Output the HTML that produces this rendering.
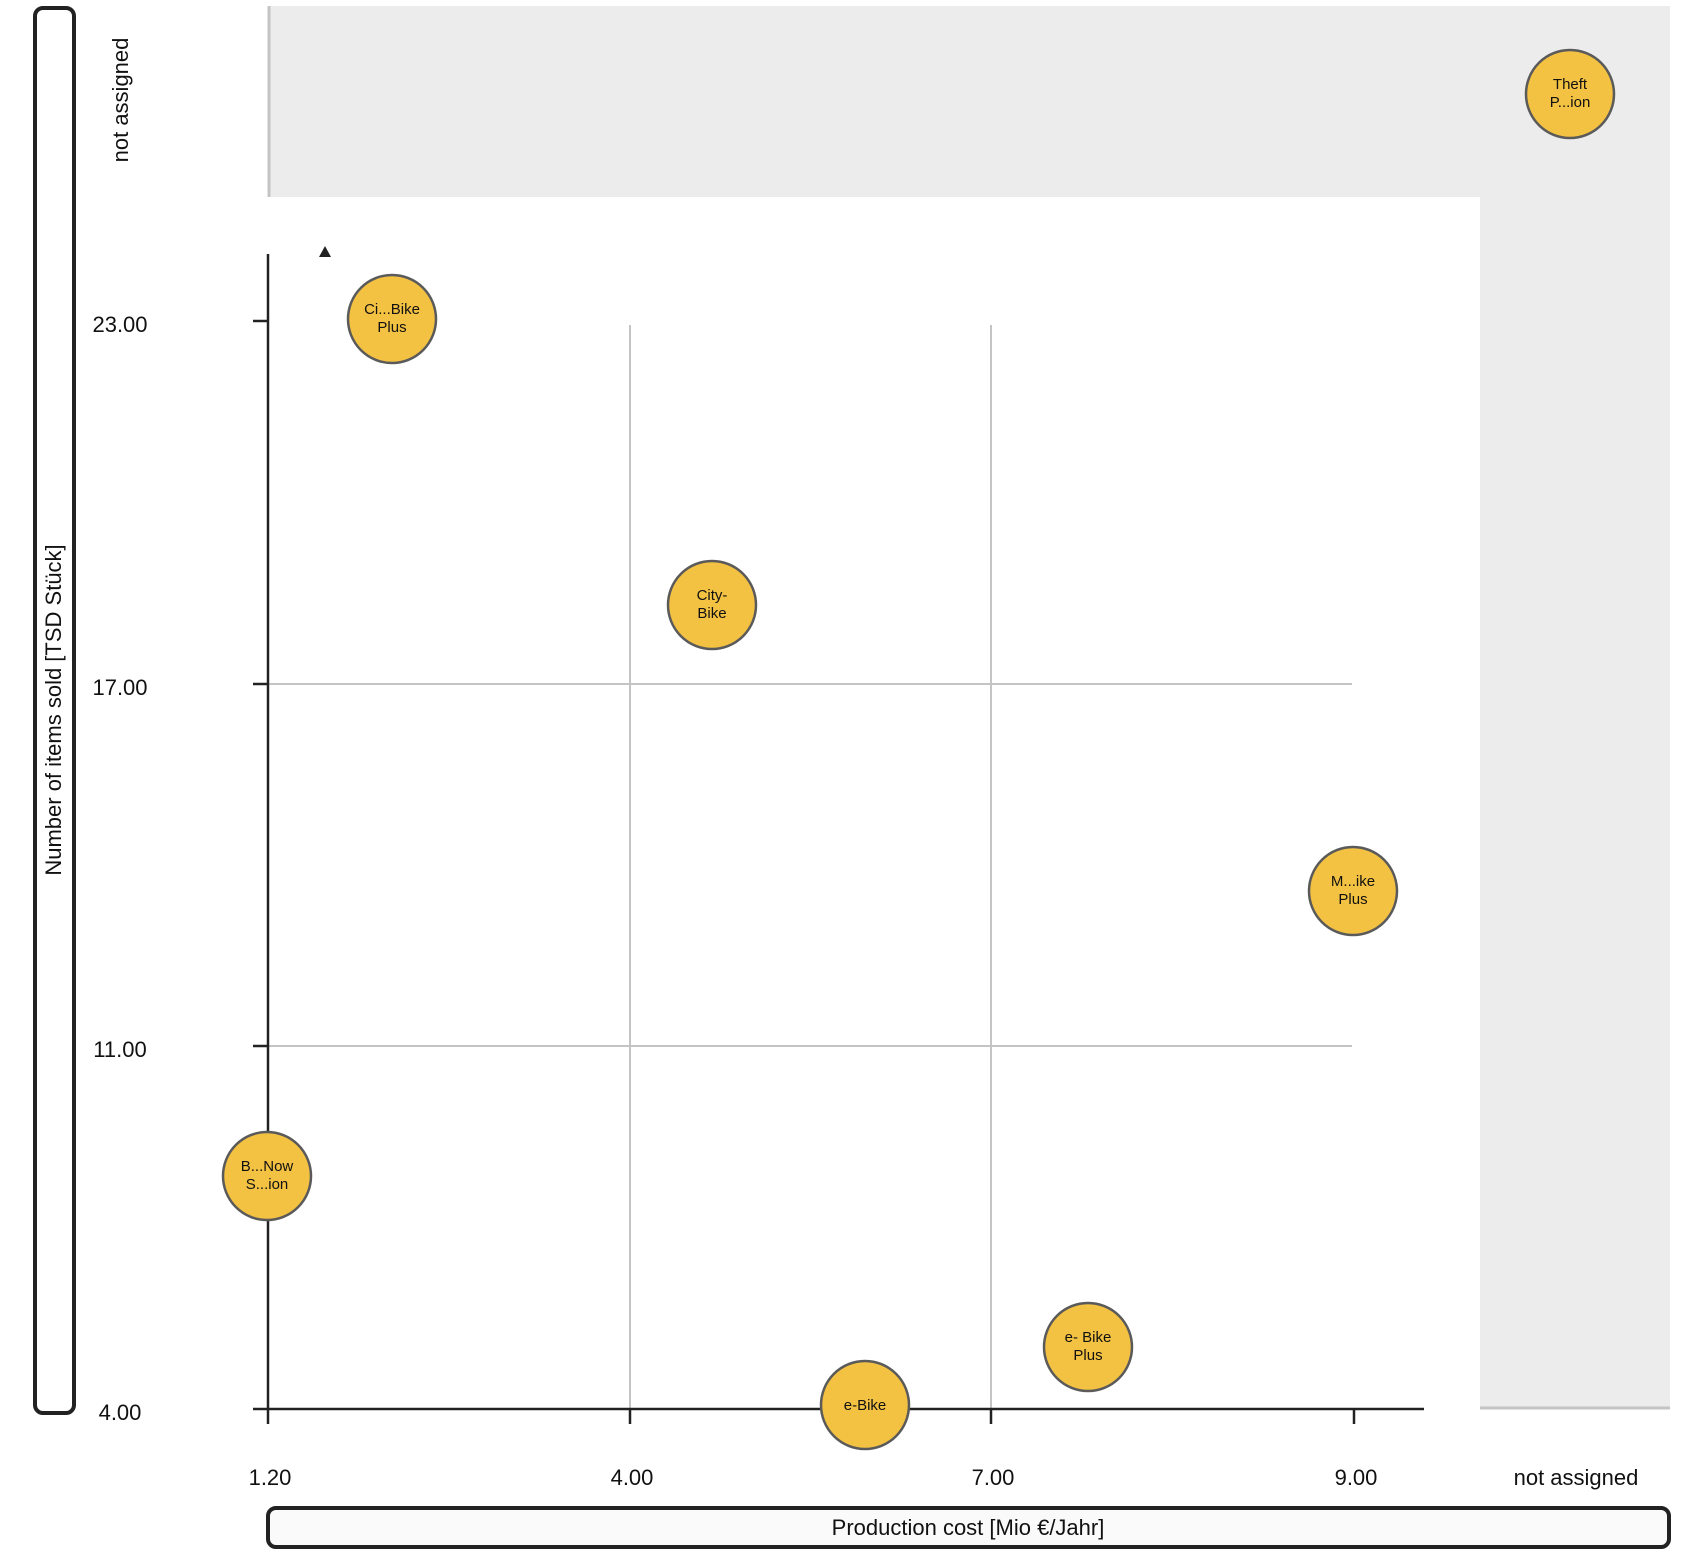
<!DOCTYPE html>
<html><head><meta charset="utf-8"><style>
body{margin:0;background:#fff;}
svg text{font-family:"Liberation Sans",Arial,sans-serif;fill:#111;}
</style></head><body>
<svg width="1708" height="1560" viewBox="0 0 1708 1560" xmlns="http://www.w3.org/2000/svg">
<rect x="268" y="6" width="1402" height="1401" fill="#ececec"/>
<line x1="269" y1="6" x2="269" y2="197" stroke="#c4c4c4" stroke-width="3"/>
<line x1="1480" y1="1408" x2="1670" y2="1408" stroke="#c4c4c4" stroke-width="3"/>
<rect x="250" y="197" width="1230" height="1240" fill="#fff"/>
<g stroke="#c4c4c4" stroke-width="2">
<line x1="630" y1="325" x2="630" y2="1409"/>
<line x1="991" y1="325" x2="991" y2="1409"/>
<line x1="268" y1="684" x2="1352" y2="684"/>
<line x1="268" y1="1046" x2="1352" y2="1046"/>
</g>
<g stroke="#222" stroke-width="2.5">
<line x1="268" y1="254" x2="268" y2="1409"/>
<line x1="268" y1="1409" x2="1424" y2="1409"/>
<line x1="253" y1="321" x2="268" y2="321"/>
<line x1="253" y1="684" x2="268" y2="684"/>
<line x1="253" y1="1046" x2="268" y2="1046"/>
<line x1="253" y1="1409" x2="268" y2="1409"/>
<line x1="268" y1="1409" x2="268" y2="1424"/>
<line x1="630" y1="1409" x2="630" y2="1424"/>
<line x1="991" y1="1409" x2="991" y2="1424"/>
<line x1="1354" y1="1409" x2="1354" y2="1424"/>
</g>
<polygon points="325,246 319,257 331,257" fill="#222"/>
<g font-size="22" text-anchor="middle">
<text x="120" y="332">23.00</text>
<text x="120" y="695">17.00</text>
<text x="120" y="1057">11.00</text>
<text x="120" y="1420">4.00</text>
<text x="270" y="1485">1.20</text>
<text x="632" y="1485">4.00</text>
<text x="993" y="1485">7.00</text>
<text x="1356" y="1485">9.00</text>
<text x="1576" y="1485">not assigned</text>
<text transform="translate(128,100) rotate(-90)">not assigned</text>
</g>
<rect x="35" y="8" width="39" height="1405" rx="8" fill="none" stroke="#222" stroke-width="4"/>
<text transform="translate(61,710) rotate(-90)" font-size="22" text-anchor="middle">Number of items sold [TSD Stück]</text>
<rect x="268" y="1508" width="1401" height="39" rx="8" fill="#fafafa" stroke="#222" stroke-width="4"/>
<text x="968" y="1535" font-size="22" text-anchor="middle">Production cost [Mio €/Jahr]</text>
<g fill="#f4c242" stroke="#5a5a5a" stroke-width="2.5">
<circle cx="1570" cy="94" r="44"/>
<circle cx="392" cy="319" r="44"/>
<circle cx="712" cy="605" r="44"/>
<circle cx="1353" cy="891" r="44"/>
<circle cx="267" cy="1176" r="44"/>
<circle cx="1088" cy="1347" r="44"/>
<circle cx="865" cy="1405" r="44"/>
</g>
<g font-size="15" text-anchor="middle">
<text x="1570" y="89">Theft</text><text x="1570" y="107">P...ion</text>
<text x="392" y="314">Ci...Bike</text><text x="392" y="332">Plus</text>
<text x="712" y="600">City-</text><text x="712" y="618">Bike</text>
<text x="1353" y="886">M...ike</text><text x="1353" y="904">Plus</text>
<text x="267" y="1171">B...Now</text><text x="267" y="1189">S...ion</text>
<text x="1088" y="1342">e- Bike</text><text x="1088" y="1360">Plus</text>
<text x="865" y="1410">e-Bike</text>
</g>
</svg>
</body></html>
